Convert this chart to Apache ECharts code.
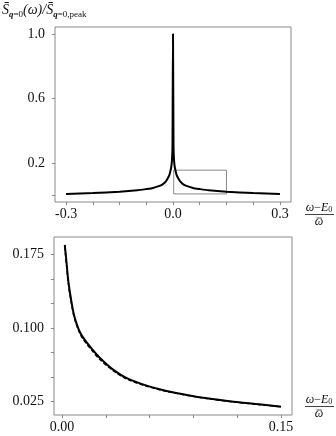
<!DOCTYPE html>
<html>
<head>
<meta charset="utf-8">
<script src="https://cdn.jsdelivr.net/npm/echarts@6/dist/echarts.min.js"></script>
<style>
  html, body { margin: 0; padding: 0; background: #fff; }
  #a { width: 336px; height: 436px; }
</style>
</head>
<body>
<div id="a"></div>
<script>
// full spectrum (top panel)
var omegaTop = [-0.3, -0.225, -0.15, -0.1, -0.075, -0.056, -0.04, -0.03, -0.02, -0.015, -0.01, -0.0075, -0.005, -0.003, -0.0015,
  0, 0.0015, 0.003, 0.005, 0.0075, 0.01, 0.015, 0.02, 0.03, 0.04, 0.056, 0.075, 0.1, 0.15, 0.225, 0.3];
var specTop = [0.010, 0.015, 0.023, 0.032, 0.040, 0.047, 0.058, 0.068, 0.088, 0.105, 0.128, 0.150, 0.175, 0.215, 0.30,
  1.0, 0.30, 0.215, 0.175, 0.150, 0.128, 0.105, 0.088, 0.068, 0.058, 0.047, 0.040, 0.032, 0.023, 0.015, 0.010];
// zoomed region marked in top panel
var boxX = [0.002, 0.15, 0.15, 0.002, 0.002];
var boxY = [0.010, 0.010, 0.157, 0.157, 0.010];

// zoom (bottom panel)
var omegaZoom = [0.0019, 0.0032, 0.0043, 0.006, 0.0082, 0.0112, 0.0139, 0.020, 0.026, 0.0352, 0.0444, 0.058, 0.0716, 0.0854, 0.0991, 0.1175, 0.1346, 0.15];
var specSolid = [0.185, 0.165, 0.148, 0.131, 0.1135, 0.0995, 0.0915, 0.0795, 0.0695, 0.0573, 0.0488, 0.0412, 0.0358, 0.0317, 0.0283, 0.0248, 0.0221, 0.0197];
var specDashed = [0.183, 0.163, 0.146, 0.129, 0.112, 0.098, 0.090, 0.078, 0.068, 0.0563, 0.048, 0.0406, 0.0354, 0.0314, 0.0281, 0.0246, 0.022, 0.0196];

// ticks / labels
var topXTicks = [-0.3, -0.225, -0.15, -0.075, 0, 0.075, 0.15, 0.225, 0.3];
var topXLabels = [-0.3, 0, 0.3];
var topYTicks = [0, 0.2, 0.6, 1.0];
var topYLabels = [0.2, 0.6, 1.0];
var botXTicks = [0, 0.03, 0.06, 0.09, 0.12, 0.15];
var botXLabels = [0, 0.15];
var botYTicks = [0.025, 0.05, 0.075, 0.1, 0.125, 0.15, 0.175];
var botYLabels = [0.025, 0.1, 0.175];

function pairs(xs, ys) {
  return xs.map(function (x, i) { return [x, ys[i]]; });
}

var serif = 'Liberation Serif';
var frameColor = '#8a8a8a';

function axisBase(ticks, labels, digits, margin) {
  return {
    type: 'value',
    splitLine: { show: false },
    axisLine: { show: false, onZero: false },
    axisTick: { show: true, inside: false, length: 3, customValues: ticks, lineStyle: { color: frameColor } },
    axisLabel: {
      customValues: labels, margin: margin, color: '#111', fontFamily: serif, fontSize: 14,
      formatter: function (v) { return v.toFixed(digits); }
    }
  };
}

var fracRich = {
  i: { fontFamily: serif, fontStyle: 'italic', fontSize: 12 },
  s: { fontFamily: serif, fontSize: 8, height: 8, verticalAlign: 'bottom' }
};

// x-axis name: (omega - E0) / omega-bar, drawn as a small fraction
function fraction(top) {
  return [
    { type: 'text', x: 319, y: top, style: { text: '{i|\u03c9}\u2212{i|E}{s|0}', textAlign: 'center', font: '12px ' + serif, fill: '#111', rich: fracRich } },
    { type: 'line', shape: { x1: 305, y1: top + 12.5, x2: 334, y2: top + 12.5 }, style: { stroke: '#111', lineWidth: 0.8 } },
    { type: 'line', shape: { x1: 316.5, y1: top + 16, x2: 322, y2: top + 16 }, style: { stroke: '#111', lineWidth: 0.7 } },
    { type: 'text', x: 319, y: top + 14, style: { text: '\u03c9', textAlign: 'center', font: 'italic 12px ' + serif, fill: '#111' } }
  ];
}

var myechart = echarts.init(document.getElementById('a'));
var option = {
  animation: false,
  backgroundColor: '#fff',
  grid: [
    { left: 55, top: 27, width: 236, height: 175, show: true, borderColor: frameColor, borderWidth: 1 },
    { left: 54, top: 237, width: 238, height: 178, show: true, borderColor: frameColor, borderWidth: 1 }
  ],
  xAxis: [
    Object.assign(axisBase(topXTicks, topXLabels, 1, 5), { gridIndex: 0, min: -0.331, max: 0.331 }),
    Object.assign(axisBase(botXTicks, botXLabels, 2, 5), { gridIndex: 1, min: -0.0055, max: 0.1575 })
  ],
  yAxis: [
    Object.assign(axisBase(topYTicks, topYLabels, 1, 10), { gridIndex: 0, min: -0.040, max: 1.043 }),
    Object.assign(axisBase(botYTicks, botYLabels, 3, 10), { gridIndex: 1, min: 0.0112, max: 0.1931 })
  ],
  graphic: [
    {
      type: 'text', left: 2, top: 3,
      style: {
        text: '{m|S\u0304}{q|q}{s|=0}{m|(}{i|\u03c9}{m|)/S\u0304}{q|q}{s|=0,peak}',
        rich: {
          m: { fontFamily: serif, fontStyle: 'italic', fontSize: 14, lineHeight: 18, fill: '#111' },
          i: { fontFamily: serif, fontStyle: 'italic', fontSize: 14, lineHeight: 18, fill: '#111' },
          q: { fontFamily: serif, fontStyle: 'italic', fontWeight: 'bold', fontSize: 9, height: 9, lineHeight: 9, verticalAlign: 'bottom', fill: '#111' },
          s: { fontFamily: serif, fontSize: 9, height: 9, lineHeight: 9, verticalAlign: 'bottom', fill: '#111' }
        }
      }
    }
  ].concat(fraction(202), fraction(394)),
  series: [
    {
      type: 'line', xAxisIndex: 0, yAxisIndex: 0, data: pairs(boxX, boxY),
      showSymbol: false, lineStyle: { color: frameColor, width: 1 }, silent: true
    },
    {
      type: 'line', xAxisIndex: 0, yAxisIndex: 0, data: pairs(omegaTop, specTop),
      showSymbol: false, smooth: 0.2, lineStyle: { color: '#000', width: 2 }
    },
    {
      type: 'line', xAxisIndex: 1, yAxisIndex: 1, data: pairs(omegaZoom, specDashed),
      showSymbol: false, smooth: 0.3, lineStyle: { color: '#000', width: 1.5, type: [4, 2] }
    },
    {
      type: 'line', xAxisIndex: 1, yAxisIndex: 1, data: pairs(omegaZoom, specSolid),
      showSymbol: false, smooth: 0.3, lineStyle: { color: '#000', width: 2 }
    }
  ]
};
myechart.setOption(option);
</script>
</body>
</html>
